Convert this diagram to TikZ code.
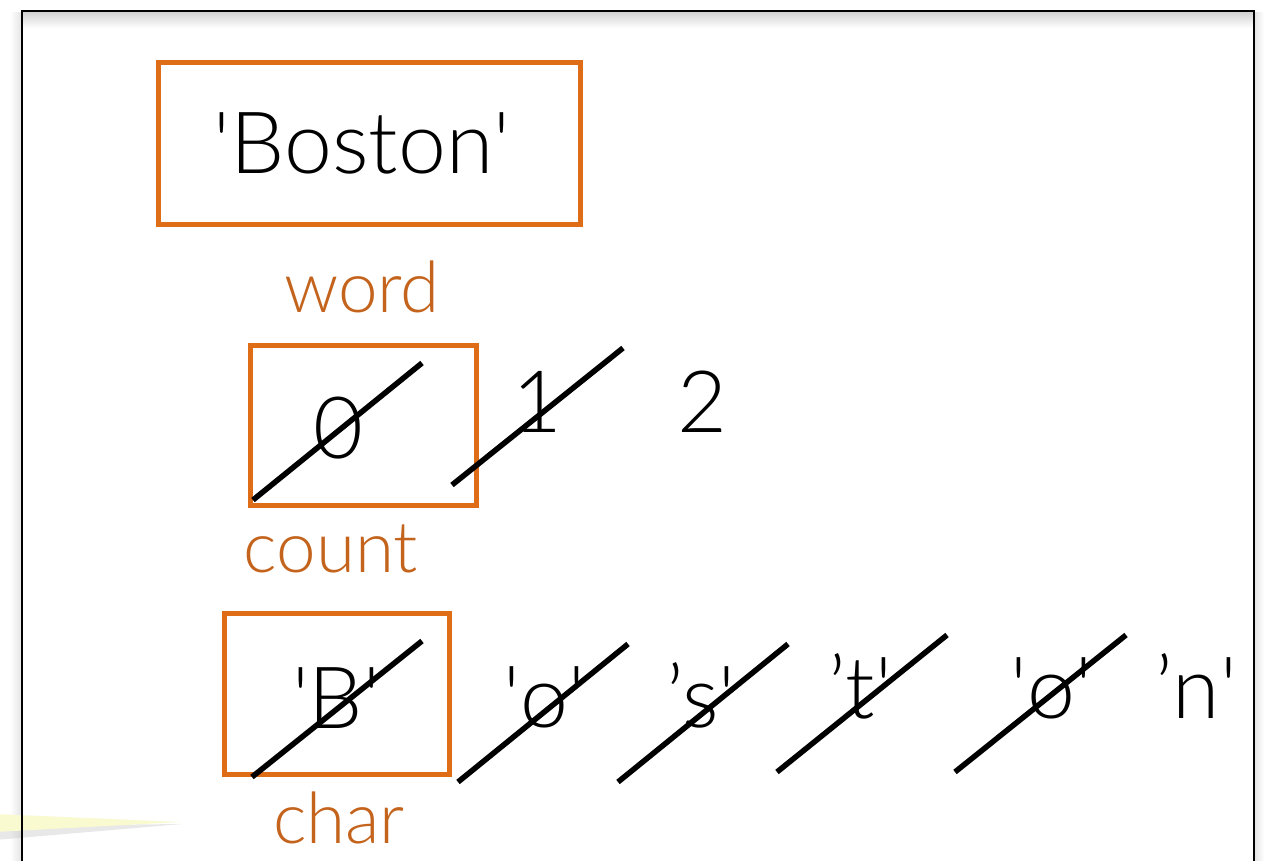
\documentclass[tikz,border=0pt]{standalone}
\usepackage{fontspec}
\setmainfont{Lato}[UprightFont=* Light]
\definecolor{boxorange}{HTML}{DF6C16}
\definecolor{laborange}{HTML}{C4631C}
\definecolor{calloutyellow}{HTML}{FAFAD0}
\tikzset{
  varbox/.style={draw=boxorange, line width=5pt},
  valtext/.style={anchor=base, inner sep=0pt, font=\fontsize{86}{90}\selectfont, text=black},
  labtext/.style={anchor=base, inner sep=0pt, font=\fontsize{71}{74}\selectfont, text=laborange},
  strike/.style={draw=black, line width=5.5pt},
}
\newcommand{\sq}{\textquotesingle}
\begin{document}
\begin{tikzpicture}[x=1pt,y=-1pt]
\useasboundingbox (0,0) rectangle (1269,860);
\fill[white] (0,0) rectangle (1269,860);
% frame shadow
\shade[top color=black!18, bottom color=white] (23,12) rectangle (1253,28);
\shade[left color=white, right color=black!10] (10,12) rectangle (21,860);
\shade[left color=black!10, right color=white] (1255,12) rectangle (1264,860);
% callout
\fill[black!25, opacity=0.35] (-5,826) -- (182,824) -- (-5,840) -- cycle;
\fill[calloutyellow] (-5,814) -- (180,822) -- (-5,832) -- cycle;
% frame
\draw[line width=2.5pt] (22,870) -- (22,11) -- (1254,11) -- (1254,870);
% word
\draw[varbox] (158.5,62.5) rectangle (580.5,224.5);
\node[valtext] (boston) at (362,173) {\sq Boston\sq};
\node[labtext] (word) at (362,312) {word};
% count
\draw[varbox] (250.5,345.5) rectangle (476.5,505.5);
\node[valtext] (c0) at (338,458) {0};
\node[valtext] (c1) at (537,432) {1};
\node[valtext] (c2) at (702,432) {2};
\draw[strike] (253,500) -- (422,363);
\draw[strike] (452,485) -- (623,348);
\node[labtext] (count) at (331,572) {count};
% char
\draw[varbox] (224.5,613.5) rectangle (449.5,774.5);
\node[valtext] (ch1) at (336,728) {\sq B\sq};
\node[valtext] (ch2) at (544,727) {\sq o\sq};
\node[valtext] (ch3) at (701,727) {’s\sq};
\node[valtext] (ch4) at (860,718) {’t\sq};
\node[valtext] (ch5) at (1051,718) {\sq o\sq};
\node[valtext] (ch6) at (1196,718) {’n\sq};
\draw[strike] (252,777) -- (422,641);
\draw[strike] (458,782) -- (628,644);
\draw[strike] (618,782) -- (788,644);
\draw[strike] (777,772) -- (947,635);
\draw[strike] (955,772) -- (1126,635);
\node[labtext] (char) at (339,843) {char};
\end{tikzpicture}
\end{document}
